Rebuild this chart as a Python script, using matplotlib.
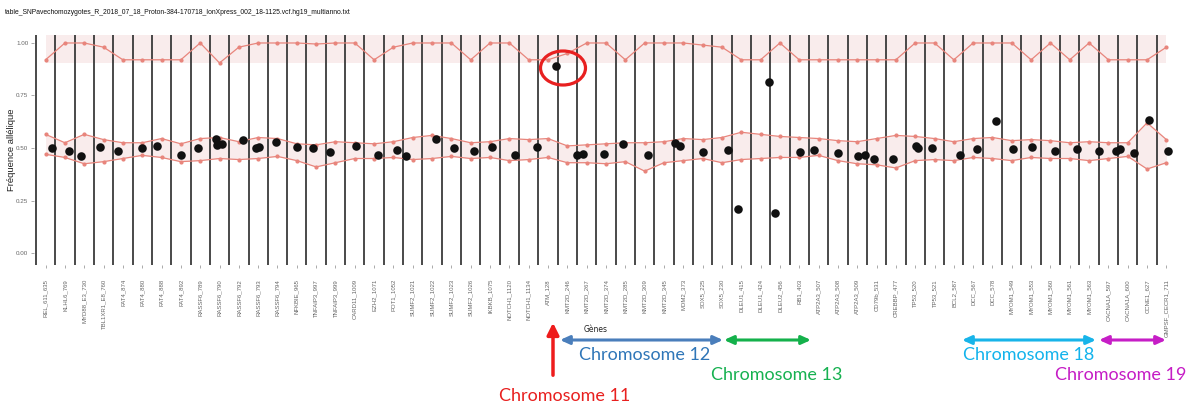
import matplotlib
matplotlib.use("Agg")
import matplotlib.pyplot as plt
import numpy as np
from matplotlib.patches import Ellipse

genes = ["REL_611_635", "KLHL6_769", "MYD88_E3_730", "TBL1XR1_E8_760", "FAT4_874", "FAT4_880",
         "FAT4_888", "FAT4_892", "RASSF6_789", "RASSF6_790", "RASSF6_792", "RASSF6_793",
         "RASSF6_794", "NFKBIE_965", "TNFAIP3_997", "TNFAIP3_999", "CARD11_1009", "EZH2_1071",
         "POT1_1052", "SUMF2_1021", "SUMF2_1022", "SUMF2_1023", "SUMF2_1026", "IKBKB_1075",
         "NOTCH1_1120", "NOTCH1_1134", "ATM_128", "KMT2D_246", "KMT2D_267", "KMT2D_374",
         "KMT2D_285", "KMT2D_309", "KMT2D_345", "MDM2_373", "SOX5_225", "SOX5_230",
         "DLEU1_415", "DLEU1_424", "DLEU2_456", "RB1_403", "ATP2A3_507", "ATP2A3_508",
         "ATP2A3_509", "CD79b_531", "CREBBP_477", "TP53_520", "TP53_521", "BCL2_587",
         "DCC_567", "DCC_578", "MYOM1_549", "MYOM1_553", "MYOM1_560", "MYOM1_561",
         "MYOM1_563", "CACNA1A_597", "CACNA1A_600", "CCNE1_627", "GMPSF_CECR1_711"]

# heterozygous reference band (upper / lower limits)
het_upper = [0.565, 0.525, 0.565, 0.54, 0.525, 0.525, 0.545, 0.52, 0.545, 0.55, 0.53, 0.55,
             0.545, 0.52, 0.515, 0.53, 0.525, 0.52, 0.53, 0.55, 0.56, 0.545, 0.525, 0.53,
             0.545, 0.54, 0.545, 0.51, 0.515, 0.52, 0.525, 0.525, 0.53, 0.545, 0.54, 0.55,
             0.575, 0.565, 0.555, 0.55, 0.545, 0.535, 0.53, 0.545, 0.56, 0.555, 0.545, 0.53,
             0.545, 0.55, 0.535, 0.54, 0.535, 0.525, 0.53, 0.525, 0.525, 0.62, 0.54]
het_lower = [0.47, 0.455, 0.425, 0.435, 0.45, 0.465, 0.455, 0.435, 0.44, 0.45, 0.445, 0.45,
             0.46, 0.44, 0.41, 0.43, 0.45, 0.45, 0.455, 0.445, 0.45, 0.46, 0.45, 0.455,
             0.44, 0.445, 0.455, 0.43, 0.43, 0.425, 0.435, 0.39, 0.43, 0.44, 0.45, 0.43,
             0.445, 0.45, 0.455, 0.455, 0.465, 0.44, 0.425, 0.42, 0.405, 0.44, 0.445, 0.44,
             0.455, 0.45, 0.44, 0.455, 0.45, 0.45, 0.44, 0.45, 0.46, 0.40, 0.43]
# homozygous reference line
hom_line = [0.92, 1.0, 1.0, 0.98, 0.92, 0.92, 0.92, 0.92, 1.0, 0.905, 0.98, 1.0,
            1.0, 1.0, 0.995, 1.0, 1.0, 0.92, 0.98, 1.0, 1.0, 1.0, 0.92, 1.0,
            1.0, 0.92, 0.92, 0.95, 1.0, 1.0, 0.92, 1.0, 1.0, 1.0, 0.99, 0.98,
            0.92, 0.92, 1.0, 0.92, 0.92, 0.92, 0.92, 0.92, 0.92, 1.0, 1.0, 0.92,
            1.0, 1.0, 1.0, 0.92, 1.0, 0.92, 1.0, 0.92, 0.92, 0.92, 0.98]

# observed sample points (jittered position in category units, allele frequency)
dot_pos = [0.34, 1.22, 1.84, 2.82, 3.75, 4.99, 5.77, 7.01, 7.89, 8.82, 8.87, 9.13, 10.22,
           10.89, 11.04, 11.92, 13.01, 13.84, 14.72, 16.06, 17.20, 18.18, 18.65, 20.20,
           21.13, 22.16, 23.10, 24.29, 25.43, 26.41, 27.50, 27.81, 28.89, 29.88, 31.17,
           32.57, 32.83, 34.02, 35.31, 35.83, 37.43, 37.74, 39.03, 39.76, 41.00, 42.03,
           42.40, 42.86, 43.85, 45.03, 45.14, 45.86, 47.31, 48.19, 49.17, 50.05, 51.03,
           52.22, 53.36, 54.50, 55.38, 55.59, 56.31, 57.09, 58.07]
dot_freq = [0.50, 0.485, 0.46, 0.505, 0.485, 0.50, 0.51, 0.465, 0.50, 0.545, 0.515, 0.52,
            0.54, 0.50, 0.505, 0.53, 0.505, 0.50, 0.48, 0.51, 0.465, 0.49, 0.46, 0.545,
            0.50, 0.485, 0.505, 0.465, 0.505, 0.89, 0.465, 0.47, 0.47, 0.52, 0.465,
            0.525, 0.51, 0.48, 0.49, 0.21, 0.815, 0.19, 0.48, 0.49, 0.475, 0.46,
            0.465, 0.45, 0.45, 0.51, 0.50, 0.50, 0.465, 0.495, 0.63, 0.495, 0.505,
            0.485, 0.495, 0.485, 0.485, 0.495, 0.475, 0.635, 0.485]

title = "table_SNPavechomozygotes_R_2018_07_18_Proton-384-170718_IonXpress_002_18-1125.vcf.hg19_multianno.txt"

W, H = 1194, 408
fig = plt.figure(figsize=(W / 100, H / 100), dpi=100)
ax = fig.add_axes([34 / W, 1 - 265 / H, 1144 / W, 230 / H])

x = np.arange(len(genes))
line_col = "#e8857c"
fill_col = "#f9ecec"

ax.fill_between(x, 0.905, 1.04, color=fill_col, lw=0, zorder=1)
ax.fill_between(x, het_lower, het_upper, color=fill_col, lw=0, zorder=1)
for series in (het_upper, het_lower, hom_line):
    ax.plot(x, series, color=line_col, lw=0.9, marker="o", ms=2, zorder=3)

for xi in x:
    ax.axvline(xi - 0.5, color="#3a3a3a", lw=1.3, zorder=2)

ax.scatter(dot_pos, dot_freq, s=38, color="#111111", zorder=4, linewidths=0)

ax.set_xlim(-0.6, len(genes) - 0.4)
ax.set_ylim(-0.057, 1.038)
ax.set_xticks(x)
ax.set_xticklabels(genes, rotation=90, fontsize=4.3, color="#666666", family="Liberation Sans")
ax.set_yticks([0, 0.25, 0.5, 0.75, 1.0])
ax.set_yticklabels(["0.00", "0.25", "0.50", "0.75", "1.00"], fontsize=4.5, color="#666666",
                   family="Liberation Sans")
ax.tick_params(axis="both", length=2, width=0.5, color="#888888", pad=2)
ax.tick_params(axis="x", pad=8)
for s in ax.spines.values():
    s.set_visible(False)
ax.set_ylabel("Fréquence allélique", fontsize=6.8, color="#222222", family="Liberation Sans")
ax.yaxis.set_label_coords(-18 / 1144, 0.5)

fig.text(5 / W, 1 - 13 / H, title, fontsize=4.9, color="#111111", va="center", ha="left",
         family="Liberation Sans")

# annotations (figure pixel coordinates)
def fy(y):
    return H - y

ax.annotate("", xy=(553, fy(320)), xytext=(553, fy(378)), xycoords="figure pixels",
            textcoords="figure pixels", annotation_clip=False,
            arrowprops=dict(arrowstyle="-|>,head_width=0.35,head_length=0.7", color="#ee1c1c", lw=2.5))
fig.text(565 / W, 1 - 396 / H, "Chromosome 11", color="#e8201f", fontsize=13, ha="center",
         va="center", family="Lato")
fig.text(596 / W, 1 - 329 / H, "Gènes", color="#222222", fontsize=5.5, ha="center", va="center")

arrows = [(560, 723, "#4a7ebb", "Chromosome 12", 645, 355),
          (724, 811, "#14b14b", "Chromosome 13", 777, 375),
          (962, 1096, "#18b4e9", "Chromosome 18", 1029, 355),
          (1099, 1166, "#c61ec6", "Chromosome 19", 1121, 375)]
text_cols = {"Chromosome 12": "#2f76b8", "Chromosome 13": "#16b150",
             "Chromosome 18": "#12b3ec", "Chromosome 19": "#c51cc5"}
for x0, x1, col, lab, tx, ty in arrows:
    ax.annotate("", xy=(x1, fy(340)), xytext=(x0, fy(340)), xycoords="figure pixels",
                textcoords="figure pixels", annotation_clip=False,
                arrowprops=dict(arrowstyle="<|-|>,head_width=0.25,head_length=0.55", color=col,
                                lw=2.2, shrinkA=0, shrinkB=0))
    fig.text(tx / W, 1 - ty / H, lab, color=text_cols[lab], fontsize=13, ha="center",
             va="center", family="Lato")

fig.add_artist(Ellipse((563 / 100, fy(68) / 100), 0.45, 0.34, transform=fig.dpi_scale_trans,
                       fill=False, edgecolor="#e82020", lw=2.3))

fig.savefig("out.png", dpi=100, facecolor="white")
